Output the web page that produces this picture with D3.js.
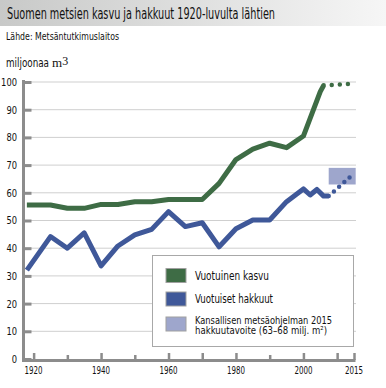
<!DOCTYPE html>
<html lang="fi">
<head>
<meta charset="UTF-8">
<title>Suomen metsien kasvu ja hakkuut</title>
<script src="https://d3js.org/d3.v7.min.js"></script>
<style>
  body { margin: 0; background: #fff; }
  svg text { font-family: "Liberation Sans Narrow", "DejaVu Sans Condensed", "Arial Narrow", sans-serif; fill: #111; }
</style>
</head>
<body>
<svg width="386" height="388"></svg>
<script>
// data
const kasvuVuodet = [1918, 1925, 1930, 1935, 1940, 1945, 1950, 1955, 1960, 1965, 1970, 1975, 1980, 1985, 1990, 1995, 2000, 2005, 2006];
const kasvuArvot  = [55.6, 55.6, 54.4, 54.4, 55.8, 55.8, 56.8, 56.8, 57.6, 57.6, 57.6, 63.4, 72.0, 75.8, 77.9, 76.3, 80.5, 96.5, 98.8];
const kasvuEnnusteVuodet = [2006, 2015];
const kasvuEnnusteArvot  = [98.8, 99.4];

const hakkuuVuodet = [1918, 1925, 1930, 1935, 1940, 1945, 1950, 1955, 1960, 1965, 1970, 1975, 1980, 1985, 1990, 1995, 2000, 2002, 2004, 2006, 2007.5];
const hakkuuArvot  = [32.1, 44.2, 40.0, 45.5, 33.6, 40.8, 44.8, 46.8, 53.2, 47.8, 49.2, 40.5, 47.0, 50.2, 50.2, 56.8, 61.4, 59.2, 61.2, 58.8, 58.8];
const hakkuuEnnusteVuodet = [2007.5, 2015];
const hakkuuEnnusteArvot  = [58.8, 67.0];

const tavoiteVuodet = [2007.5, 2015.5];
const tavoiteArvot  = [63, 69];

const yTicks = [0, 10, 20, 30, 40, 50, 60, 70, 80, 90, 100];
const xLabels = [1920, 1940, 1960, 1980, 2000, 2015];
const xTicks = [1920, 1930, 1940, 1950, 1960, 1970, 1980, 1990, 2000, 2010, 2015];

const legendItems = [
  {label: ["Vuotuinen kasvu"], color: "#3e6c45"},
  {label: ["Vuotuiset hakkuut"], color: "#3f5899"},
  {label: ["Kansallisen metsäohjelman 2015", "hakkuutavoite (63–68 milj. m²)"], color: "#9ea6cc"}
];

const svg = d3.select("svg");

// squeeze a text to the narrow width used in the original
function fit(sel, w) {
  sel.attr("textLength", w).attr("lengthAdjust", "spacingAndGlyphs");
  return sel;
}

// title band
const defs = svg.append("defs");
const grad = defs.append("linearGradient").attr("id", "titleGrad");
grad.append("stop").attr("offset", "0%").attr("stop-color", "#c8c9c8");
grad.append("stop").attr("offset", "100%").attr("stop-color", "#f6f6f6");
svg.append("rect").attr("x", 0).attr("y", 0).attr("width", 386).attr("height", 26).attr("fill", "url(#titleGrad)");
fit(svg.append("text").attr("x", 7).attr("y", 18.5).style("font-size", "15px")
  .text("Suomen metsien kasvu ja hakkuut 1920-luvulta lähtien"), 268);
fit(svg.append("text").attr("x", 6).attr("y", 39.5).style("font-size", "10px")
  .text("Lähde: Metsäntutkimuslaitos"), 113);

const unit = svg.append("text").attr("x", 6).attr("y", 67);
fit(unit.append("tspan").style("font-size", "11.5px").text("miljoonaa"), 43);
unit.append("tspan").attr("dx", 3).style("font-family", "'Liberation Serif', serif").style("font-size", "13px").text("m");
unit.append("tspan").style("font-family", "'Liberation Serif', serif").style("font-size", "12px").attr("dy", -2).text("3");

const x = d3.scaleLinear().domain([1917, 2015]).range([23.5, 354]);
const y = d3.scaleLinear().domain([0, 100]).range([359, 82]);

// gridlines
svg.append("g").selectAll("line").data(yTicks.filter(d => d > 0)).join("line")
  .attr("x1", x(1917)).attr("x2", 356)
  .attr("y1", d => y(d)).attr("y2", d => y(d))
  .attr("stroke", "#cfcfcf").attr("stroke-width", 1);

// target box
svg.append("rect")
  .attr("x", x(tavoiteVuodet[0])).attr("width", x(tavoiteVuodet[1]) - x(tavoiteVuodet[0]))
  .attr("y", y(tavoiteArvot[1])).attr("height", y(tavoiteArvot[0]) - y(tavoiteArvot[1]))
  .attr("fill", "#9ea6cc");

// y axis
const yAxis = svg.append("g").attr("transform", `translate(${x(1917)},0)`)
  .call(d3.axisRight(y).tickValues(yTicks).tickSize(8).tickFormat(""));
yAxis.select(".domain").remove();
yAxis.selectAll(".tick line").attr("stroke", "#8c8c8c").attr("stroke-width", 3);
svg.append("line").attr("x1", x(1917)).attr("x2", x(1917)).attr("y1", 80).attr("y2", 362)
  .attr("stroke", "#8c8c8c").attr("stroke-width", 3);
svg.append("g").selectAll("text").data(yTicks).join("text")
  .attr("x", 17).attr("y", d => y(d)).attr("dy", "0.36em").attr("text-anchor", "end")
  .style("font-size", "11px").text(d => d)
  .each(function(d) { fit(d3.select(this), String(d).length * 5.3); });

// x axis
const xAxis = svg.append("g").attr("transform", `translate(0,${y(0) + 1})`)
  .call(d3.axisTop(x).tickValues(xTicks).tickSizeOuter(0).tickFormat(""));
xAxis.select(".domain").remove();
xAxis.selectAll(".tick line").attr("stroke", "#8c8c8c").attr("stroke-width", 2.5)
  .attr("y2", d => (xLabels.includes(d) || d === 1970 || d === 2010) ? -7 : -5);
svg.append("line").attr("x1", x(1917) - 1.5).attr("x2", x(2015) + 1.5)
  .attr("y1", y(0) + 1.5).attr("y2", y(0) + 1.5).attr("stroke", "#8c8c8c").attr("stroke-width", 3);
fit(svg.append("g").selectAll("text").data(xLabels).join("text")
  .attr("x", d => x(d) - 9).attr("y", 374)
  .style("font-size", "11px").text(d => d), 18);

// lines
const line = d3.line().x(d => x(d[0])).y(d => y(d[1]));
const zip = (a, b) => a.map((v, i) => [v, b[i]]);

svg.append("path").datum(zip(kasvuVuodet, kasvuArvot)).attr("d", line)
  .attr("fill", "none").attr("stroke", "#3e6c45").attr("stroke-width", 5).attr("stroke-linejoin", "round");
svg.append("path").datum(zip(kasvuEnnusteVuodet, kasvuEnnusteArvot)).attr("d", line)
  .attr("fill", "none").attr("stroke", "#3e6c45").attr("stroke-width", 4.5)
  .attr("stroke-linecap", "round").attr("stroke-dasharray", "0 8.1");

svg.append("path").datum(zip(hakkuuVuodet, hakkuuArvot)).attr("d", line)
  .attr("fill", "none").attr("stroke", "#3f5899").attr("stroke-width", 5).attr("stroke-linejoin", "round");
svg.append("path").datum(zip(hakkuuEnnusteVuodet, hakkuuEnnusteArvot)).attr("d", line)
  .attr("fill", "none").attr("stroke", "#3f5899").attr("stroke-width", 4.5)
  .attr("stroke-linecap", "round").attr("stroke-dasharray", "0 7");

// legend
const lg = svg.append("g");
lg.append("rect").attr("x", 152.5).attr("y", 255.5).attr("width", 201).attr("height", 91)
  .attr("fill", "#fff").attr("stroke", "#a8a8a8");
const legendWidths = [[74], [78], [137, 132]];
const items = lg.selectAll("g.item").data(legendItems).join("g").attr("class", "item")
  .attr("transform", (d, i) => `translate(166,${[268.5, 292, 317][i]})`);
items.append("rect").attr("width", 20).attr("height", 14).attr("fill", d => d.color)
  .attr("stroke", "#a0a0a0").attr("stroke-width", 1);
items.each(function(d, k) {
  const one = d.label.length === 1;
  const t = d3.select(this).append("text").style("font-size", one ? "11.5px" : "10.5px");
  d.label.forEach((s, i) => fit(t.append("tspan").attr("x", 29).attr("y", (one ? 11 : 7) + i * 10)
    .text(s), legendWidths[k][i]));
});
</script>
</body>
</html>
